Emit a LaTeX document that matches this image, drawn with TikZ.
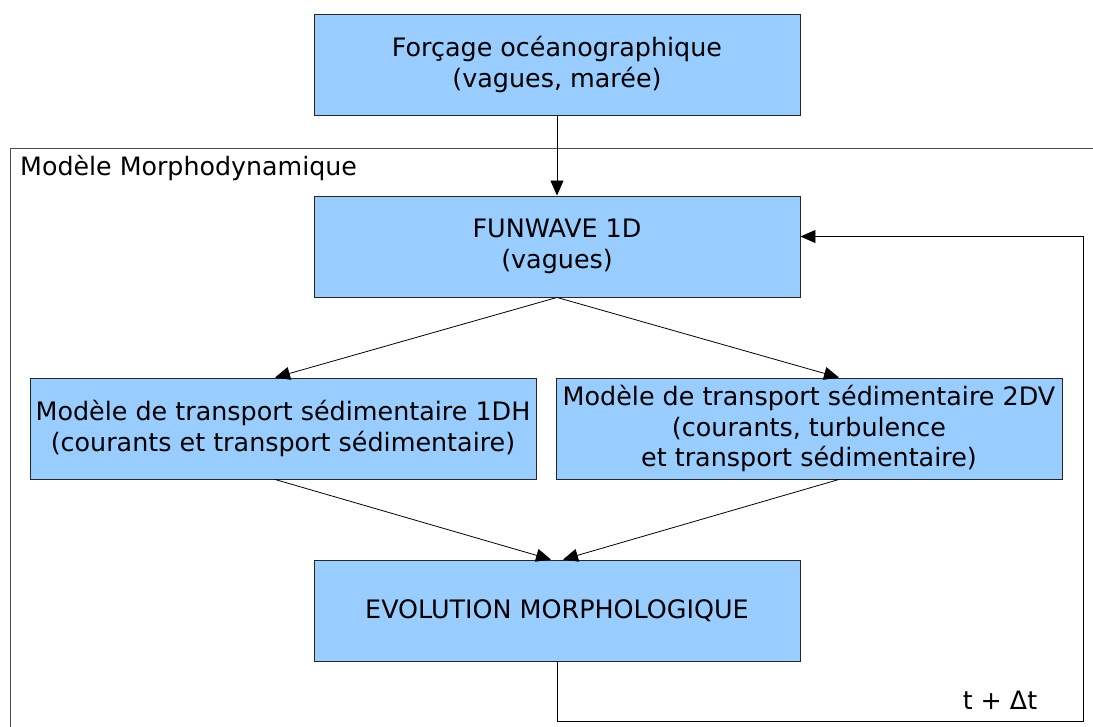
\documentclass[tikz,border=0pt]{standalone}
\usepackage{fontspec}
\setmainfont{DejaVu Sans}
\usetikzlibrary{arrows.meta,calc}
\definecolor{boxblue}{HTML}{99CCFF}
\begin{document}
\begin{tikzpicture}[x=1pt,y=-1pt,
  procbox/.style={draw=black!85,line width=0.9pt,fill=boxblue,minimum height=101pt,
    inner sep=0pt,align=center,font=\fontsize{25.4}{30.5}\selectfont},
  conn/.style={draw=black,line width=0.8pt,-{Triangle[length=15pt,width=13pt]}},
  lbl/.style={inner sep=0pt,font=\fontsize{25.3}{30}\selectfont}]
\useasboundingbox (0,0) rectangle (1093,726);
% frame
\draw[gray!60!black,line width=0.9pt] (1095,148) -- (10,148) -- (10,728);
\node[lbl,anchor=west] (title) at (20,168) {Modèle Morphodynamique};
% boxes
\node[procbox,minimum width=486pt] (force) at (557,64.5) {Forçage océanographique\\(vagues, marée)};
\node[procbox,minimum width=486pt] (fun) at (557,246.5) {FUNWAVE 1D\\(vagues)};
\node[procbox,minimum width=506pt] (left) at (283,428.5) {Modèle de transport sédimentaire 1DH\\(courants et transport sédimentaire)};
\node[procbox,minimum width=506pt] (right) at (809,428.5) {Modèle de transport sédimentaire 2DV\\(courants, turbulence\\et transport sédimentaire)};
\node[procbox,minimum width=486pt] (evo) at (557,610.5) {EVOLUTION MORPHOLOGIQUE};
% connectors
\draw[conn] (force.south) -- (fun.north);
\draw[conn] (fun.south) -- ([xshift=-8pt]left.north);
\draw[conn] (fun.south) -- ([xshift=30pt]right.north);
\draw[conn] ([xshift=-8pt]left.south) -- ([xshift=-6pt]evo.north);
\draw[conn] ([xshift=30pt]right.south) -- ([xshift=6pt]evo.north);
\coordinate (corner) at (1083,721);
\draw[conn] (evo.south) |- (corner) |- ([yshift=10pt]fun.east);
\node[lbl] (dt) at (1000,700) {t + Δt};
\end{tikzpicture}
\end{document}
